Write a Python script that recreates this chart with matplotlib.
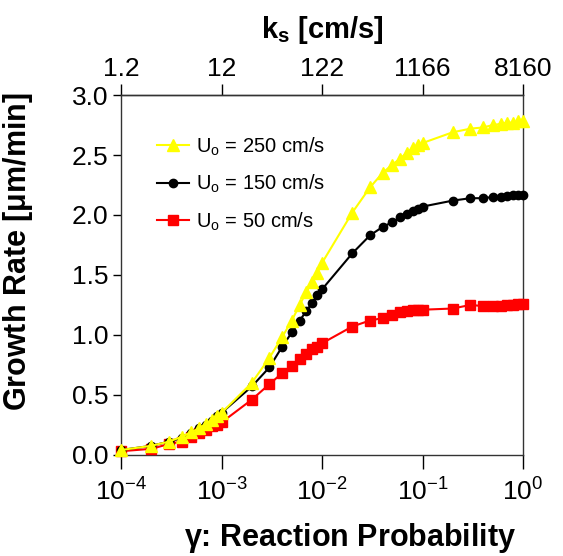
import numpy as np
import matplotlib
matplotlib.use("Agg")
import matplotlib.pyplot as plt
from matplotlib.ticker import FormatStrFormatter, NullLocator

plt.rcParams["font.family"] = ["Liberation Sans", "DejaVu Sans"]
plt.rcParams["mathtext.fontset"] = "custom"
plt.rcParams["mathtext.rm"] = "Liberation Sans"
plt.rcParams["mathtext.it"] = "Liberation Sans:italic"
plt.rcParams["mathtext.bf"] = "Liberation Sans:bold"
plt.rcParams["mathtext.default"] = "regular"

# reaction probability: 1..9 x 10^n, n = -4..-1, plus 1.0
gamma = [1e-4, 2e-4, 3e-4, 4e-4, 5e-4, 6e-4, 7e-4, 8e-4, 9e-4,
         1e-3, 2e-3, 3e-3, 4e-3, 5e-3, 6e-3, 7e-3, 8e-3, 9e-3,
         1e-2, 2e-2, 3e-2, 4e-2, 5e-2, 6e-2, 7e-2, 8e-2, 9e-2,
         1e-1, 2e-1, 3e-1, 4e-1, 5e-1, 6e-1, 7e-1, 8e-1, 9e-1,
         1.0]

# growth rate [um/min]
rate_250 = [0.04, 0.075, 0.11, 0.15, 0.19, 0.22, 0.26, 0.29, 0.32,
            0.35, 0.60, 0.81, 0.98, 1.12, 1.25, 1.36, 1.44, 1.52,
            1.60, 2.02, 2.23, 2.35, 2.42, 2.47, 2.52, 2.56, 2.58,
            2.60, 2.69, 2.72, 2.73, 2.75, 2.76, 2.77, 2.77, 2.78,
            2.78]
rate_150 = [0.04, 0.075, 0.11, 0.14, 0.18, 0.22, 0.25, 0.28, 0.32,
            0.35, 0.57, 0.73, 0.90, 1.02, 1.12, 1.20, 1.27, 1.33,
            1.38, 1.68, 1.83, 1.90, 1.94, 1.98, 2.01, 2.03, 2.05,
            2.07, 2.12, 2.14, 2.14, 2.15, 2.15, 2.16, 2.17, 2.17,
            2.17]
rate_50 = [0.03, 0.05, 0.09, 0.11, 0.15, 0.18, 0.21, 0.24, 0.25,
           0.27, 0.46, 0.59, 0.68, 0.74, 0.80, 0.84, 0.88, 0.90,
           0.93, 1.07, 1.12, 1.14, 1.17, 1.19, 1.20, 1.21, 1.21,
           1.21, 1.22, 1.25, 1.24, 1.24, 1.24, 1.25, 1.25, 1.26,
           1.26]

top_ticks = [1e-4, 1e-3, 1e-2, 1e-1, 1e0]
top_labels = ["1.2", "12", "122", "1166", "8160"]

fig = plt.figure(figsize=(5.63, 5.56), dpi=100)
ax = fig.add_axes([0.215, 0.182, 0.714, 0.647])

l50, = ax.plot(gamma, rate_50, color="#ff0000", marker="s", markersize=7,
               lw=1.5, clip_on=False, zorder=3)
l150, = ax.plot(gamma, rate_150, color="#000000", marker="o", markersize=6,
                lw=1.5, clip_on=False, zorder=4)
l250, = ax.plot(gamma, rate_250, color="#ffff00", marker="^", markersize=8,
                lw=1.5, clip_on=False, zorder=5)

ax.set_xscale("log")
ax.set_xlim(1e-4, 1)
ax.set_ylim(0, 3)
ax.xaxis.set_minor_locator(NullLocator())
ax.set_yticks([0, 0.5, 1.0, 1.5, 2.0, 2.5, 3.0])
ax.yaxis.set_major_formatter(FormatStrFormatter("%.1f"))
ax.tick_params(axis="x", direction="out", length=10, width=1, pad=7, labelsize=19)
ax.tick_params(axis="y", direction="out", length=6, width=1, pad=3, labelsize=19)
for s in ax.spines.values():
    s.set_linewidth(1)
    s.set_color("#333333")

ax.set_xlabel(r"$\gamma$: Reaction Probability", fontsize=22, fontweight="bold")
ax.xaxis.set_label_coords(0.57, -0.185)
ax.set_ylabel(r"Growth Rate [$\mu$m/min]", fontsize=22, fontweight="bold")
ax.yaxis.set_label_coords(-0.215, 0.565)

sec = ax.secondary_xaxis("top")
sec.set_xticks(top_ticks)
sec.set_xticklabels(top_labels)
sec.xaxis.set_minor_locator(NullLocator())
sec.tick_params(axis="x", direction="out", length=8, width=1, pad=2, labelsize=19)
sec.spines["top"].set_linewidth(1)
sec.spines["top"].set_color("#333333")
sec.set_xlabel(r"k$_\mathbf{s}$ [cm/s]", fontsize=21, fontweight="bold", labelpad=14)

ax.legend([l250, l150, l50],
          [r"U$_\mathrm{o}$ = 250 cm/s", r"U$_\mathrm{o}$ = 150 cm/s",
           r"U$_\mathrm{o}$ = 50 cm/s"],
          loc="upper left", bbox_to_anchor=(0.07, 0.91), frameon=False,
          fontsize=14.5, handlelength=1.6, handletextpad=0.3, labelspacing=0.75,
          borderaxespad=0)

fig.savefig("out.png", dpi=100)
